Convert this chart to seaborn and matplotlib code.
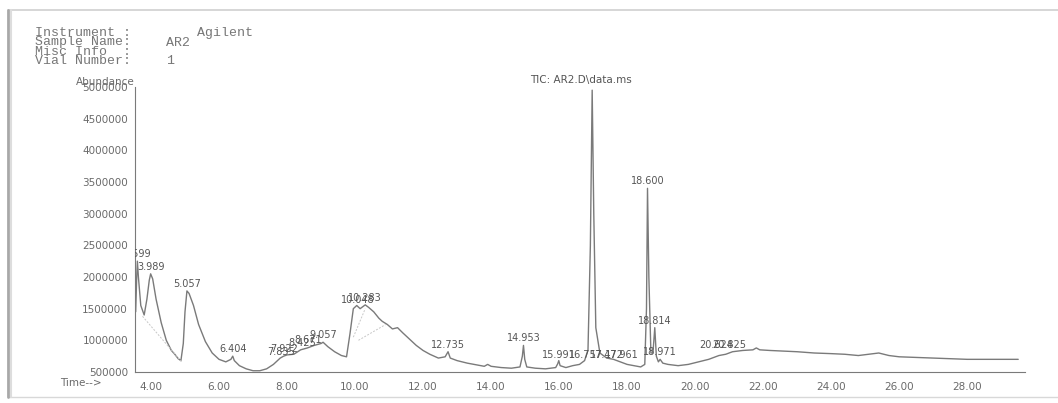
import matplotlib
matplotlib.use("Agg")
import matplotlib.pyplot as plt
import matplotlib.ticker as mticker
from matplotlib.lines import Line2D
import seaborn as sns
import pandas as pd

# retention time (min) and abundance of the TIC trace
rt_min = [3.55, 3.58, 3.60, 3.63, 3.70, 3.80, 3.88, 3.95, 3.99, 4.05, 4.15, 4.30,
          4.45, 4.60, 4.70, 4.80, 4.88, 4.95, 5.00, 5.057, 5.12, 5.25, 5.40, 5.60,
          5.80, 6.00, 6.20, 6.35, 6.404, 6.45, 6.60, 6.80, 7.00, 7.20, 7.40, 7.60,
          7.80, 7.90, 8.00, 8.20, 8.40, 8.60, 8.80, 9.00, 9.06, 9.20, 9.40, 9.60,
          9.75, 9.85, 9.95, 10.05, 10.15, 10.30, 10.40, 10.55, 10.70, 10.80, 10.95,
          11.10, 11.25, 11.40, 11.60, 11.80, 12.00, 12.20, 12.45, 12.65, 12.735,
          12.80, 13.00, 13.30, 13.60, 13.80, 13.90, 14.00, 14.30, 14.60, 14.85,
          14.92, 14.953, 14.99, 15.05, 15.30, 15.60, 15.90, 15.96, 15.991, 16.03,
          16.20, 16.40, 16.60, 16.75, 16.85, 16.92, 16.973, 17.02, 17.08, 17.20,
          17.40, 17.60, 17.80, 18.00, 18.20, 18.40, 18.52, 18.57, 18.60, 18.64,
          18.70, 18.76, 18.814, 18.86, 18.92, 18.971, 19.05, 19.20, 19.50, 19.80,
          20.10, 20.40, 20.70, 20.90, 21.10, 21.40, 21.70, 21.80, 21.90, 22.20,
          22.60, 23.00, 23.50, 24.00, 24.40, 24.80, 25.10, 25.40, 25.70, 26.00,
          26.50, 27.00, 27.50, 28.00, 28.50, 29.00, 29.50]
abund_m = [1.45, 2.00, 2.25, 2.00, 1.55, 1.40, 1.65, 1.95, 2.05, 1.97, 1.65, 1.28,
           1.00, 0.84, 0.78, 0.71, 0.68, 0.95, 1.45, 1.78, 1.74, 1.55, 1.25, 0.98,
           0.80, 0.70, 0.66, 0.70, 0.75, 0.68, 0.60, 0.55, 0.52, 0.52, 0.55, 0.62,
           0.72, 0.75, 0.77, 0.78, 0.85, 0.88, 0.92, 0.95, 0.97, 0.90, 0.82, 0.76,
           0.74, 1.10, 1.50, 1.55, 1.50, 1.56, 1.52, 1.45, 1.35, 1.30, 1.25,
           1.18, 1.20, 1.12, 1.02, 0.92, 0.84, 0.78, 0.72, 0.74, 0.82,
           0.72, 0.68, 0.64, 0.61, 0.59, 0.62, 0.59, 0.57, 0.56, 0.58,
           0.75, 0.92, 0.70, 0.58, 0.56, 0.55, 0.57, 0.63, 0.68, 0.60,
           0.57, 0.60, 0.62, 0.68, 0.85, 2.50, 4.95, 3.00, 1.20, 0.80,
           0.72, 0.70, 0.66, 0.62, 0.60, 0.58, 0.62, 1.50, 3.40, 2.00,
           0.80, 0.80, 1.20, 0.75, 0.66, 0.70, 0.64, 0.62, 0.60, 0.62,
           0.66, 0.70, 0.76, 0.78, 0.82, 0.84, 0.85, 0.88, 0.85, 0.84,
           0.83, 0.82, 0.80, 0.79, 0.78, 0.76, 0.78, 0.80, 0.76, 0.74,
           0.73, 0.72, 0.71, 0.70, 0.70, 0.70, 0.70]

# peak annotations: (time, abundance in millions, label)
peak_rt = [3.60, 3.99, 5.057, 6.404, 7.82, 7.92, 8.45, 8.62, 9.06,
           10.08, 10.30, 12.735, 14.953, 15.991, 16.80, 17.40, 17.85,
           16.973, 18.60, 18.814, 18.971, 20.62, 21.00]
peak_ab = [2.25, 2.05, 1.78, 0.75, 0.71, 0.75, 0.85, 0.89, 0.97,
           1.52, 1.56, 0.82, 0.92, 0.66, 0.66, 0.66, 0.66,
           4.95, 3.40, 1.20, 0.70, 0.82, 0.82]
peak_txt = ["3.599", "3.989", "5.057", "6.404", "7.835", "7.922", "8.425",
            "8.671", "9.057", "10.048", "10.283", "12.735", "14.953", "15.991",
            "16.757", "17.472", "17.961", "16.973", "18.600", "18.814", "18.971",
            "20.624", "20.825"]

# faint integration baselines
base_x0 = [3.75, 9.95, 10.10]
base_y0 = [1.38, 1.05, 1.00]
base_x1 = [4.90, 10.30, 10.90]
base_y1 = [0.66, 1.50, 1.25]

header_keys = ["Instrument :", "Sample Name:", "Misc Info  :", "Vial Number:"]
header_vals = ["Agilent", "AR2", "", "1"]

df = pd.DataFrame({"time": rt_min, "abundance": [v * 1e6 for v in abund_m]})

sns.set_style("white")
plt.rcParams["font.family"] = ["DejaVu Sans"]
ink = "#6a6a6a"

fig = plt.figure(figsize=(10.58, 4.03), dpi=100)
W, H = 1058, 403
ax = fig.add_axes([135 / W, 1 - 372 / H, (1025 - 135) / W, (372 - 87) / H])

sns.lineplot(data=df, x="time", y="abundance", ax=ax, color="#7a7a7a",
             linewidth=1.0, sort=False)
for x0, y0, x1, y1 in zip(base_x0, base_y0, base_x1, base_y1):
    ax.plot([x0, x1], [y0 * 1e6, y1 * 1e6], color="#c8c8c8", linewidth=0.7,
            linestyle=(0, (2, 1.5)))

for t, a, s in zip(peak_rt, peak_ab, peak_txt):
    ax.annotate(s, (t, a * 1e6), xytext=(0, 1.5), textcoords="offset points",
                ha="center", va="bottom", fontsize=7, color="#555555",
                clip_on=True, annotation_clip=False)

ax.set_xlim(3.53, 29.7)
ax.set_ylim(500000, 5000000)
ax.set_xlabel("")
ax.set_ylabel("")
ax.xaxis.set_major_locator(mticker.MultipleLocator(2))
ax.xaxis.set_minor_locator(mticker.MultipleLocator(0.4))
ax.xaxis.set_major_formatter(mticker.FormatStrFormatter("%.2f"))
ax.yaxis.set_major_locator(mticker.MultipleLocator(500000))
ax.yaxis.set_major_formatter(mticker.FormatStrFormatter("%d"))
ax.tick_params(axis="both", which="both", direction="out", colors=ink,
               labelsize=7.5, length=3, width=0.7, pad=2)
ax.tick_params(axis="x", which="minor", length=2)
ax.tick_params(axis="x", pad=4)
for s in ["top", "right"]:
    ax.spines[s].set_visible(False)
for s in ["left", "bottom"]:
    ax.spines[s].set_color("#7a7a7a")
    ax.spines[s].set_linewidth(0.8)

ax.text(0.0, 1.0, "Abundance", transform=ax.transAxes, ha="right", va="bottom",
        fontsize=7.5, color=ink)
fig.text(60 / W, 1 - 383 / H, "Time-->", ha="left", va="center", fontsize=7.5,
         color=ink)
fig.text(581 / W, 1 - 80 / H, "TIC: AR2.D\\data.ms", ha="center", va="center",
         fontsize=7.5, color="#555555")

row_y = [33, 42.5, 52, 61.5]
for k, v, yy in zip(header_keys, header_vals, row_y):
    fig.text(35 / W, 1 - yy / H, k, ha="left", va="center", fontsize=9.5,
             family="Liberation Mono", color="#777777")
    if v:
        xv = 197 if v == "Agilent" else 166
        fig.text(xv / W, 1 - yy / H, v, ha="left", va="center", fontsize=9.5,
                 family="Liberation Mono", color="#777777")

# screenshot frame
fig.add_artist(Line2D([8 / W, 1], [1 - 10 / H, 1 - 10 / H], transform=fig.transFigure,
                      color="#d0d0d0", linewidth=1.2))
fig.add_artist(Line2D([8 / W, 1], [1 - 397 / H, 1 - 397 / H], transform=fig.transFigure,
                      color="#d8d8d8", linewidth=1.0))
fig.add_artist(Line2D([8 / W, 8 / W], [1 - 10 / H, 1 - 397 / H], transform=fig.transFigure,
                      color="#a8a8a8", linewidth=2.0))
fig.add_artist(Line2D([10.5 / W, 10.5 / W], [1 - 10 / H, 1 - 397 / H],
                      transform=fig.transFigure, color="#dddddd", linewidth=1.5))

fig.savefig("out.png", dpi=100)
